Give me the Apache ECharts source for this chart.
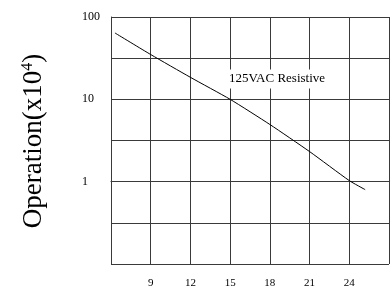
<!DOCTYPE html>
<html>
<head>
<meta charset="utf-8">
<script src="https://cdn.jsdelivr.net/npm/echarts@6/dist/echarts.min.js"></script>
<style>
  html, body { margin: 0; padding: 0; background: #fff; }
  #chart { width: 392px; height: 289px; }
</style>
</head>
<body>
<div id="chart"></div>
<script>
// 电流 (A) 与动作次数 (x10^4)
const currentA = [6.3, 9, 12, 15, 18, 21, 24, 25.2];
const operations = [64, 35, 18.5, 10, 4.95, 2.32, 1.03, 0.8];
const yTickLabels = { 1: "1", 10: "10", 100: "100" };
const curveLabel = "125VAC Resistive";

const serif = "'Liberation Serif', 'DejaVu Serif', serif";
const gridColor = "#3a3a3a";

const chart = echarts.init(document.getElementById("chart"));

chart.setOption({
  animation: false,
  grid: { left: 111, top: 17, right: 0, bottom: 25 },
  xAxis: {
    type: "value",
    min: 6,
    max: 27,
    interval: 3,
    axisLine: { show: true, lineStyle: { color: gridColor, width: 1 } },
    axisTick: { show: false },
    axisLabel: {
      color: "#000",
      fontFamily: serif,
      fontSize: 11,
      margin: 14,
      formatter: (v) => (v === 6 || v === 27 ? "" : String(v)),
    },
    splitLine: { show: true, lineStyle: { color: gridColor, width: 1 } },
  },
  yAxis: [
    {
      // 对数轴：曲线与刻度标签
      type: "log",
      logBase: 10,
      min: 0.1,
      max: 100,
      axisLine: { show: true, lineStyle: { color: gridColor, width: 1 } },
      axisTick: { show: false },
      axisLabel: {
        color: "#000",
        fontFamily: serif,
        fontSize: 12,
        align: "left",
        margin: 29,
        formatter: (v) => yTickLabels[Math.round(v * 1000) / 1000] || "",
      },
      splitLine: { show: false },
    },
    {
      // 半个数量级的网格线（log10 空间）
      type: "value",
      min: -1,
      max: 2,
      interval: 0.5,
      position: "left",
      axisLine: { show: false },
      axisTick: { show: false },
      axisLabel: { show: false },
      splitLine: { show: true, lineStyle: { color: gridColor, width: 1 } },
    },
  ],
  series: [
    {
      type: "line",
      yAxisIndex: 0,
      data: currentA.map((x, i) => [x, operations[i]]),
      showSymbol: false,
      smooth: 0.2,
      lineStyle: { color: "#000", width: 1 },
    },
  ],
  graphic: [
    {
      type: "text",
      x: 277,
      y: 79,
      z: 100,
      style: {
        text: curveLabel,
        font: "13px " + serif,
        fill: "#000",
        align: "center",
        verticalAlign: "middle",
        backgroundColor: "#fff",
        padding: [3, 3],
      },
    },
    {
      type: "text",
      x: 34,
      y: 141,
      rotation: Math.PI / 2,
      style: {
        text: "{a|Operation(x10}{s|4}{a|)}",
        align: "center",
        verticalAlign: "middle",
        fill: "#000",
        rich: {
          a: { fontFamily: serif, fontSize: 27, fill: "#000" },
          s: { fontFamily: serif, fontSize: 16, fill: "#000", verticalAlign: "top", padding: [0, 0, 12, 0] },
        },
      },
    },
  ],
});
</script>
</body>
</html>
